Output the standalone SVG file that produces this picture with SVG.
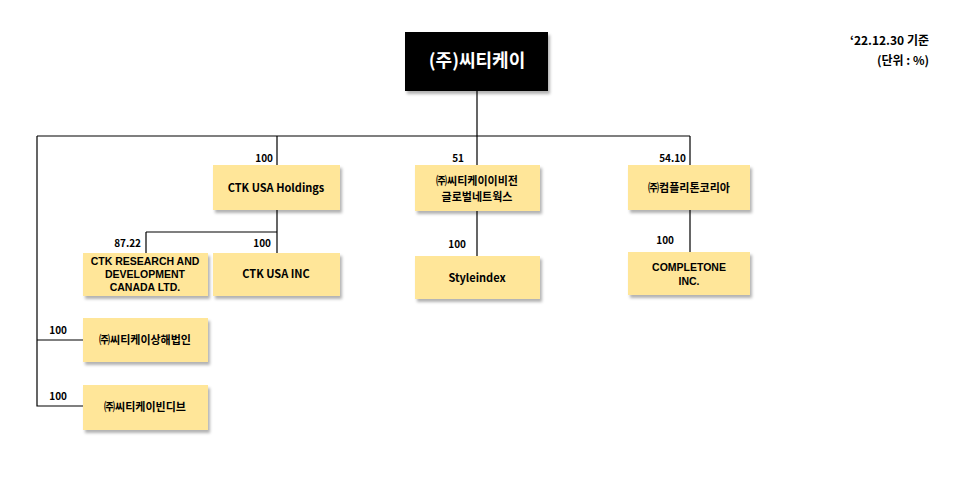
<svg xmlns="http://www.w3.org/2000/svg" width="962" height="483" viewBox="0 0 962 483">
<defs>
<filter id="sh" x="-10%" y="-10%" width="130%" height="140%"><feDropShadow dx="2" dy="3" stdDeviation="1.5" flood-color="#000" flood-opacity="0.3"/></filter>
<style>
.b{fill:#FFE699;filter:url(#sh)}
text{font-family:"Noto Sans CJK KR","Liberation Sans",sans-serif;font-weight:bold;font-size:11px;fill:#000}
.c{text-anchor:middle}
.s{font-family:"Liberation Sans",sans-serif;font-size:10.5px}
.r{text-anchor:end;font-size:10px}
.l{stroke:#000;stroke-width:1.2;fill:none}
</style>
</defs>
<rect width="962" height="483" fill="#fff"/>
<g id="connectors">
<path class="l" d="M477 91V165M37 136H690M277 136V165M690 136V165M37 136V406H83M37 340H83M277 210V253M146 232H277M146 232V253M477 211V256M690 210V252"/>
</g>
<g id="top"><rect x="405" y="32" width="143" height="59" fill="#000" filter="url(#sh)"/><text x="477" y="67" class="c" style="fill:#fff;font-size:18px">(주)씨티케이</text></g>
<g id="holdings"><rect class="b" x="213" y="165" width="127" height="45"/><text x="276" y="192" class="c">CTK USA Holdings</text></g>
<g id="global"><rect class="b" x="415" y="165" width="125" height="46"/><text x="477" y="185" class="c">㈜씨티케이이비전</text><text x="477" y="201" class="c">글로벌네트웍스</text></g>
<g id="complton"><rect class="b" x="628" y="165" width="122" height="45"/><text x="689" y="192" class="c">㈜컴플리톤코리아</text></g>
<g id="research"><rect class="b" x="83" y="253" width="125" height="43"/><text x="145" y="265" class="c s">CTK RESEARCH AND</text><text x="145" y="278" class="c s">DEVELOPMENT</text><text x="145" y="291" class="c s">CANADA LTD.</text></g>
<g id="usainc"><rect class="b" x="213" y="253" width="127" height="43"/><text x="276" y="278" class="c">CTK USA INC</text></g>
<g id="style"><rect class="b" x="415" y="256" width="125" height="43"/><text x="477" y="282" class="c">Styleindex</text></g>
<g id="completone"><rect class="b" x="628" y="252" width="122" height="43"/><text x="689" y="271" class="c s">COMPLETONE</text><text x="689" y="285" class="c s">INC.</text></g>
<g id="shanghai"><rect class="b" x="83" y="318" width="125" height="44"/><text x="145" y="344" class="c">㈜씨티케이상해법인</text></g>
<g id="vindiv"><rect class="b" x="83" y="385" width="125" height="45"/><text x="145" y="411" class="c">㈜씨티케이빈디브</text></g>
<g id="labels">
<text x="273" y="162" class="r">100</text>
<text x="141" y="247" class="r">87.22</text>
<text x="271" y="247" class="r">100</text>
<text x="464" y="162" class="r">51</text>
<text x="686" y="162" class="r">54.10</text>
<text x="466" y="248" class="r">100</text>
<text x="674" y="244" class="r">100</text>
<text x="67" y="334" class="r">100</text>
<text x="67" y="400" class="r">100</text>
<text x="929" y="45" class="r" style="font-size:12px">‘22.12.30 기준</text>
<text x="929" y="65" class="r" style="font-size:12px">(단위 : %)</text>
</g>
</svg>
